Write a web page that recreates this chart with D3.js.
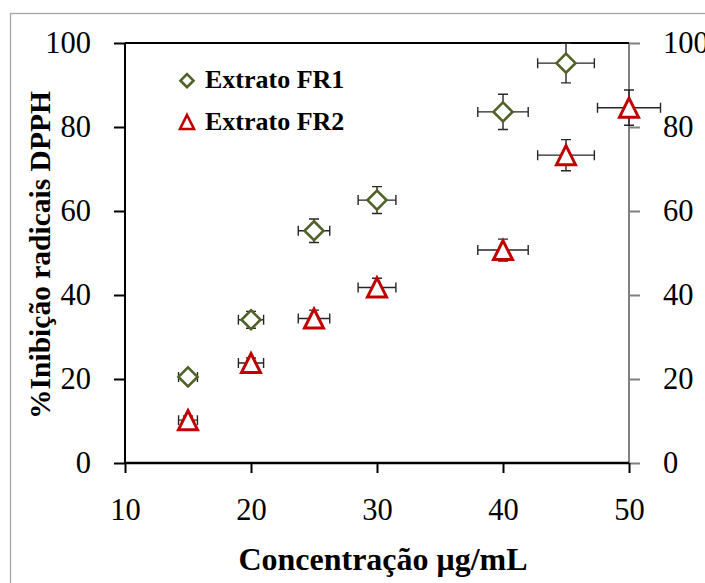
<!DOCTYPE html>
<html>
<head>
<meta charset="utf-8">
<script src="https://cdn.jsdelivr.net/npm/d3@7"></script>
<style>
  body { margin: 0; background: #fff; }
  .num text { font-family: "Liberation Serif", serif; font-size: 30.5px; fill: #000; }
  .bold { font-family: "Liberation Serif", serif; font-weight: bold; fill: #000; }
</style>
</head>
<body>
<svg></svg>
<script>

// concentrations (ug/mL)
var conc1 = [15, 20, 25, 30, 40, 45];
var conc2 = [15, 20, 25, 30, 40, 45, 50];

// % inhibition
var fr1 = [20.5, 34.1, 55.3, 62.6, 83.6, 95.2];
var fr2 = [10.2, 23.8, 34.4, 41.8, 50.7, 73.3, 84.6];

// error bars
var fr1YErr = [1.0, 2.0, 2.8, 3.2, 4.2, 4.7];
var fr2YErr = [1.0, 1.2, 2.0, 2.2, 2.6, 3.7, 4.2];
var fr1XErr = [0.75, 1, 1.25, 1.5, 2, 2.25];
var fr2XErr = [0.75, 1, 1.25, 1.5, 2, 2.25, 2.5];

var yTicks = [0, 20, 40, 60, 80, 100];
var xTicks = [10, 20, 30, 40, 50];

var svg = d3.select('svg')
   .attr('width', 705)
   .attr('height', 583)

// outer chart frame
svg.append('rect')
   .attr('x', 10.5).attr('y', 13.5)
   .attr('width', 800).attr('height', 700)
   .attr('fill', 'none')
   .attr('stroke', '#a6a6a6')
   .attr('stroke-width', 1.3)

var x = d3.scaleLinear().domain([10, 50]).range([125, 629]);
var y = d3.scaleLinear().domain([0, 100]).range([463, 43]);

// right (secondary) axis, grey
var right = svg.append('g')
   .attr('class', 'num')
   .attr('transform', 'translate(629,0)')
   .call(d3.axisRight(y).tickValues(yTicks).tickSize(11).tickPadding(23).tickFormat(d3.format('d')))
right.selectAll('line, path').attr('stroke', '#808080').attr('stroke-width', 2)
right.select('.domain').attr('d', 'M0,' + y(0) + 'V' + y(100))
right.selectAll('text').attr('font-family', null).attr('font-size', null)

// top border
svg.append('line')
   .attr('x1', x(10)).attr('x2', x(50))
   .attr('y1', y(100)).attr('y2', y(100))
   .attr('stroke', '#000').attr('stroke-width', 2)

// left axis
var left = svg.append('g')
   .attr('class', 'num')
   .attr('transform', 'translate(125,0)')
   .call(d3.axisLeft(y).tickValues(yTicks).tickSize(11).tickPadding(23).tickFormat(d3.format('d')))
left.selectAll('line, path').attr('stroke', '#000').attr('stroke-width', 2)
left.select('.domain').attr('d', 'M0,' + y(0) + 'V' + y(100))
left.selectAll('text').attr('font-family', null).attr('font-size', null)

// bottom axis
var bottom = svg.append('g')
   .attr('class', 'num')
   .attr('transform', 'translate(0,463)')
   .call(d3.axisBottom(x).tickValues(xTicks).tickSize(10).tickPadding(25).tickFormat(d3.format('d')))
bottom.selectAll('line').attr('stroke', '#000').attr('stroke-width', 2)
bottom.select('.domain').attr('d', 'M' + x(10) + ',0H' + x(50)).attr('stroke', '#000').attr('stroke-width', 2.5)
bottom.selectAll('text').attr('font-family', null).attr('font-size', null)

var series = [
   { xs: conc1, ys: fr1, ex: fr1XErr, ey: fr1YErr, color: '#4f6228', shape: 'diamond' },
   { xs: conc2, ys: fr2, ex: fr2XErr, ey: fr2YErr, color: '#c00000', shape: 'triangle' }
];

var cap = 5;

function markerPath(shape, s) {
   if (shape === 'diamond') {
      return 'M0,' + (-s) + 'L' + s + ',0L0,' + s + 'L' + (-s) + ',0Z';
   }
   return 'M0,' + (-s) + 'L' + s + ',' + s + 'L' + (-s) + ',' + s + 'Z';
}

series.forEach((sr) => {
   var pts = sr.xs.map((d, i) => ({ x: d, y: sr.ys[i], ex: sr.ex[i], ey: sr.ey[i] }));

   var eb = svg.append('g')
      .attr('stroke', '#262626')
      .attr('stroke-width', 1.4)
      .attr('fill', 'none')

   eb.selectAll('path.h')
      .data(pts)
      .enter()
      .append('path')
      .attr('d', (d) => {
         var x0 = x(d.x - d.ex), x1 = x(d.x + d.ex), yy = y(d.y);
         return 'M' + x0 + ',' + yy + 'H' + x1 +
            'M' + x0 + ',' + (yy - cap) + 'V' + (yy + cap) +
            'M' + x1 + ',' + (yy - cap) + 'V' + (yy + cap);
      })

   eb.selectAll('path.v')
      .data(pts)
      .enter()
      .append('path')
      .attr('d', (d) => {
         var y0 = y(d.y + d.ey), y1 = y(d.y - d.ey), xx = x(d.x);
         return 'M' + xx + ',' + y0 + 'V' + y1 +
            'M' + (xx - cap) + ',' + y0 + 'H' + (xx + cap) +
            'M' + (xx - cap) + ',' + y1 + 'H' + (xx + cap);
      })

   svg.append('g')
      .selectAll('path')
      .data(pts)
      .enter()
      .append('path')
      .attr('transform', (d) => 'translate(' + x(d.x) + ',' + y(d.y) + ')')
      .attr('d', markerPath(sr.shape, 9.5))
      .attr('fill', '#fff')
      .attr('stroke', sr.color)
      .attr('stroke-width', sr.shape === 'diamond' ? 2.6 : 3)
});

// legend
var legendNames = ['Extrato FR1', 'Extrato FR2'];
var legend = svg.append('g')
   .attr('transform', 'translate(187,0)')

legend.selectAll('path')
   .data(series)
   .enter()
   .append('path')
   .attr('transform', (d, i) => 'translate(0,' + (i === 0 ? 80.7 : 122) + ')')
   .attr('d', (d) => markerPath(d.shape, d.shape === 'diamond' ? 6.5 : 7))
   .attr('fill', '#fff')
   .attr('stroke', (d) => d.color)
   .attr('stroke-width', 2.6)

legend.selectAll('text')
   .data(legendNames)
   .enter()
   .append('text')
   .attr('class', 'bold')
   .attr('x', 18)
   .attr('y', (d, i) => i === 0 ? 88 : 129.5)
   .attr('font-size', 26)
   .text((d) => d)

// axis titles
svg.append('text')
   .attr('class', 'bold')
   .attr('x', 383).attr('y', 570)
   .attr('text-anchor', 'middle')
   .attr('font-size', 32)
   .text('Concentração μg/mL')

svg.append('text')
   .attr('class', 'bold')
   .attr('transform', 'translate(50,255) rotate(-90)')
   .attr('text-anchor', 'middle')
   .attr('font-size', 29.5)
   .text('%Inibição radicais DPPH')

</script>
</body>
</html>
